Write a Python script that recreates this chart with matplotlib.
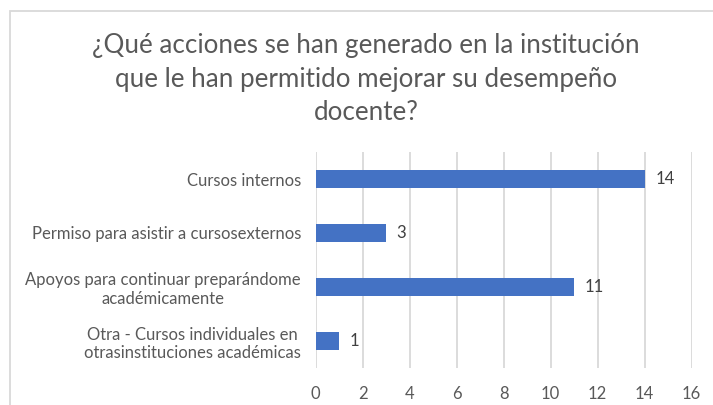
import matplotlib
matplotlib.use("Agg")
import matplotlib.pyplot as plt
from matplotlib.patches import Rectangle

categories = [
    "Cursos internos",
    "Permiso para asistir a cursosexternos",
    "Apoyos para continuar preparándome\nacadémicamente",
    "Otra - Cursos individuales en\notrasinstituciones académicas",
]
values = [14, 3, 11, 1]
xticks = [0, 2, 4, 6, 8, 10, 12, 14, 16]
title = "¿Qué acciones se han generado en la institución\nque le han permitido mejorar su desempeño\ndocente?"

plt.rcParams['font.family'] = ['Lato', 'DejaVu Sans']

W, H = 713, 405
fig = plt.figure(figsize=(W / 100, H / 100), dpi=100)
fig.patch.set_facecolor("white")

# outer chart border
fig.add_artist(Rectangle((10 / W, -0.05), 1.2, 1 - 10.5 / H + 0.05, transform=fig.transFigure,
                         fill=False, edgecolor="#d9d9d9", linewidth=1.3))

ax = fig.add_axes([315.7 / W, 1 - 368 / H, (691.7 - 315.7) / W, (368 - 152) / H])
y = list(range(len(categories)))
ax.barh(y, values, height=0.333, color="#4472c4", zorder=3)
ax.set_ylim(len(categories) - 0.5, -0.5)
ax.set_xlim(0, 16)
ax.set_xticks(xticks)
ax.set_xticklabels([str(t) for t in xticks])
ax.set_yticks(y)
ax.set_yticklabels(categories, ha="right", multialignment="center")
for s in ax.spines.values():
    s.set_visible(False)
ax.grid(axis="x", color="#d9d9d9", linewidth=1.3, zorder=0)
ax.tick_params(axis="x", length=0, pad=13, labelsize=12, labelcolor="#595959")
ax.tick_params(axis="y", length=0, pad=10.5, labelsize=12, labelcolor="#595959")
for v, yy in zip(values, y):
    ax.text(v + 0.45, yy, str(v), va="center", ha="left", fontsize=12, color="#404040")

fig.text(366 / W, 1 - 79 / H, title, ha="center", va="center", fontsize=18.7,
         color="#595959", linespacing=1.45)

fig.savefig("out.png", dpi=100)
